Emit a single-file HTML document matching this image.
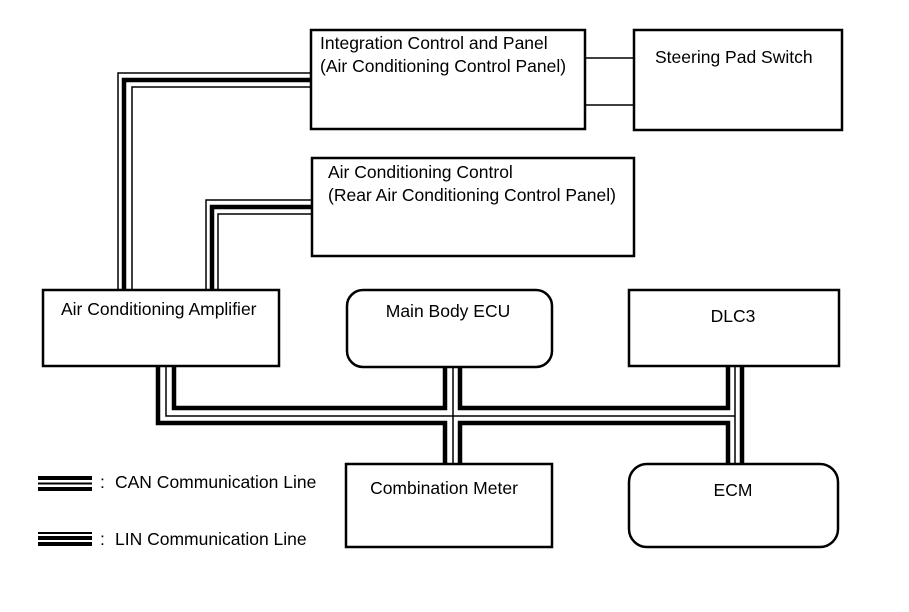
<!DOCTYPE html>
<html><head><meta charset="utf-8"><style>
html,body{margin:0;padding:0;background:#fff;width:909px;height:612px;overflow:hidden}
svg{display:block}
text{font-family:"Liberation Sans",Arial,sans-serif;font-size:17.5px;fill:#000}
</style></head><body>
<svg width="909" height="612" viewBox="0 0 909 612" xmlns="http://www.w3.org/2000/svg">
<g fill="none" stroke="#000">
<rect x="311" y="30" width="274" height="99" stroke-width="2.5"/>
<rect x="634" y="30" width="208" height="100" stroke-width="2.5"/>
<rect x="312" y="158" width="322" height="98" stroke-width="2.5"/>
<rect x="43" y="290" width="236" height="76" stroke-width="2.5"/>
<rect x="347" y="290" width="205" height="77" rx="16" stroke-width="2.5"/>
<rect x="629" y="290" width="210" height="76" stroke-width="2.5"/>
<rect x="346" y="464" width="206" height="83" stroke-width="2.5"/>
<rect x="629" y="464" width="209" height="83" rx="18" stroke-width="2.5"/>
<line x1="585" y1="58" x2="634" y2="58" stroke-width="1.5"/>
<line x1="585" y1="105" x2="634" y2="105" stroke-width="1.5"/>
<polyline points="118,290 118,73 311,73" stroke-width="1.5"/>
<polyline points="124,290 124,80 311,80" stroke-width="4.5"/>
<polyline points="132,290 132,87 311,87" stroke-width="1.5"/>
<polyline points="206,290 206,200 312,200" stroke-width="1.5"/>
<polyline points="212,290 212,207 312,207" stroke-width="4.5"/>
<polyline points="218,290 218,214 312,214" stroke-width="1.5"/>
<polyline points="158,366 158,423 445,423 445,464" stroke-width="4.5"/>
<polyline points="174,366 174,408 445,408 445,367" stroke-width="4.5"/>
<polyline points="166,366 166,416 735,416" stroke-width="1.5"/>
<line x1="453" y1="367" x2="453" y2="464" stroke-width="1.5"/>
<polyline points="460,367 460,408 728,408 728,366" stroke-width="4.5"/>
<polyline points="460,464 460,423 728,423 728,464" stroke-width="4.5"/>
<line x1="735" y1="366" x2="735" y2="464" stroke-width="1.5"/>
<line x1="742" y1="366" x2="742" y2="464" stroke-width="4.5"/>
<line x1="38" y1="478" x2="92" y2="478" stroke-width="4"/>
<line x1="38" y1="483.5" x2="92" y2="483.5" stroke-width="2"/>
<line x1="38" y1="489" x2="92" y2="489" stroke-width="4"/>
<line x1="38" y1="533" x2="92" y2="533" stroke-width="2"/>
<line x1="38" y1="538" x2="92" y2="538" stroke-width="4"/>
<line x1="38" y1="544" x2="92" y2="544" stroke-width="4"/>
</g>
<text x="320" y="49">Integration Control and Panel</text>
<text x="320" y="72">(Air Conditioning Control Panel)</text>
<text x="655" y="63">Steering Pad Switch</text>
<text x="328" y="178">Air Conditioning Control</text>
<text x="328" y="201">(Rear Air Conditioning Control Panel)</text>
<text x="61" y="315">Air Conditioning Amplifier</text>
<text x="448" y="317" text-anchor="middle">Main Body ECU</text>
<text x="733" y="322" text-anchor="middle">DLC3</text>
<text x="444" y="494" text-anchor="middle">Combination Meter</text>
<text x="733" y="496" text-anchor="middle">ECM</text>
<text x="100" y="488">:</text>
<text x="115" y="488">CAN Communication Line</text>
<text x="100" y="545">:</text>
<text x="115" y="545">LIN Communication Line</text>
</svg>
</body></html>
